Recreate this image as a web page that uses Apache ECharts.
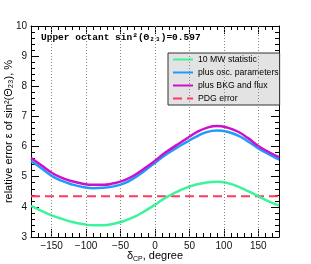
<!DOCTYPE html>
<html><head><meta charset="utf-8">
<script src="https://cdn.jsdelivr.net/npm/echarts@6/dist/echarts.min.js"></script>
<style>html,body{margin:0;padding:0;background:#fff}#c{width:311px;height:264px}</style>
</head><body><div id="c"></div>
<script>
const deltaCP = [-180,-165,-150,-135,-120,-105,-90,-75,-60,-45,-30,-15,0,15,30,45,60,75,90,105,120,135,150,165,180];
const statOnly = [4.03,3.87,3.72,3.60,3.50,3.43,3.39,3.39,3.44,3.53,3.67,3.86,4.07,4.30,4.48,4.63,4.74,4.81,4.83,4.79,4.68,4.52,4.35,4.18,4.05];
const plusOsc  = [5.52,5.28,5.03,4.86,4.74,4.66,4.62,4.63,4.68,4.78,4.96,5.20,5.46,5.72,5.94,6.14,6.33,6.48,6.53,6.49,6.37,6.17,5.94,5.75,5.57];
const plusBkg  = [5.62,5.38,5.13,4.96,4.85,4.77,4.73,4.73,4.78,4.88,5.05,5.28,5.53,5.80,6.03,6.25,6.47,6.62,6.68,6.63,6.50,6.28,6.02,5.82,5.65];
const pdgError = 4.35;
const xMajorTicks = [-150,-100,-50,0,50,100,150];
const names = ['10 MW statistic','plus osc. parameters','plus BKG and flux','PDG error'];

const pairs = a => deltaCP.map((x,i)=>[x,a[i]]);
const fmt = v => String(v).replace('-', '\u2212');
const FONT = 'Liberation Sans';
const G = {left:31, right:32, top:26, bottom:27, outerBoundsMode:'none', containLabel:false};

const chart = echarts.init(document.getElementById('c'), null, {renderer:'canvas'});
const axLine = {show:true, onZero:false, lineStyle:{color:'#000', width:1}};
const noLine = {show:false, onZero:false};
chart.setOption({
  animation:false,
  grid:[Object.assign({}, G), Object.assign({}, G)],
  xAxis:[
    {type:'value', gridIndex:0, position:'bottom', min:-180, max:180,
     axisLine:axLine, splitLine:{show:false},
     axisTick:{show:true, inside:true, length:8, customValues:xMajorTicks, lineStyle:{color:'#000'}},
     axisLabel:{customValues:xMajorTicks, formatter:fmt, color:'#111', fontFamily:FONT, fontSize:10, margin:4},
     name:'{a|δ}{s|CP}{a|, degree}', nameLocation:'middle', nameGap:12, nameMoveOverlap:false,
     nameTextStyle:{rich:{a:{fontFamily:FONT, fontSize:11, color:'#000', lineHeight:14},
                          s:{fontFamily:FONT, fontSize:7, color:'#000', verticalAlign:'bottom', lineHeight:9}}}},
    {type:'value', gridIndex:0, position:'top', min:-180, max:180,
     axisLine:axLine, splitLine:{show:false},
     axisTick:{show:true, inside:true, length:8, customValues:xMajorTicks, lineStyle:{color:'#000'}},
     axisLabel:{show:false}},
    {type:'value', gridIndex:1, position:'bottom', min:-180, max:180, interval:10,
     axisLine:noLine, splitLine:{show:false},
     axisTick:{show:true, inside:true, length:4, lineStyle:{color:'#000'}}, axisLabel:{show:false}},
    {type:'value', gridIndex:1, position:'top', min:-180, max:180, interval:10,
     axisLine:noLine, splitLine:{show:false},
     axisTick:{show:true, inside:true, length:4, lineStyle:{color:'#000'}}, axisLabel:{show:false}}
  ],
  yAxis:[
    {type:'value', gridIndex:0, position:'left', min:3, max:10, interval:1,
     axisLine:axLine, splitLine:{show:false},
     axisTick:{show:true, inside:true, length:8, lineStyle:{color:'#000'}},
     minorTick:{show:true, splitNumber:5, length:4, lineStyle:{color:'#000'}},
     axisLabel:{color:'#111', fontFamily:FONT, fontSize:10, margin:4},
     name:'relative error ε of sin²(Θ₂₃), %', nameLocation:'middle', nameGap:17, nameMoveOverlap:false,
     nameTextStyle:{fontFamily:FONT, fontSize:11, color:'#000'}},
    {type:'value', gridIndex:0, position:'right', min:3, max:10, interval:1,
     axisLine:axLine, splitLine:{show:false},
     axisTick:{show:true, inside:true, length:8, lineStyle:{color:'#000'}},
     minorTick:{show:true, splitNumber:5, length:4, lineStyle:{color:'#000'}},
     axisLabel:{show:false}},
    {type:'value', gridIndex:1, min:3, max:10, show:false, axisLine:noLine},
    {type:'value', gridIndex:1, min:3, max:10, show:false, position:'right', axisLine:noLine}
  ],
  legend:{orient:'vertical', left:168, top:53,
    data:names, backgroundColor:'#e3e3e3', borderColor:'#333', borderWidth:1,
    padding:[1,1,1,4], itemGap:2, itemWidth:20, itemHeight:11,
    itemStyle:{color:'transparent', opacity:0, borderWidth:0},
    lineStyle:{width:2},
    textStyle:{fontFamily:FONT, fontSize:8.7, color:'#000', lineHeight:11}},
  graphic:[{type:'text', left:41, top:33, silent:true,
    style:{text:'Upper octant sin²(Θ₂₃)=0.597', fontFamily:'Liberation Mono', fontWeight:'bold', fontSize:9.5, fill:'#000'}}],
  series:[
    {name:names[3], type:'line', xAxisIndex:0, yAxisIndex:0, symbol:'none',
     data:[[-180,pdgError],[180,pdgError]],
     lineStyle:{color:'#ff3a5c', width:2, type:[9,5]}, itemStyle:{color:'#ff3a5c'},
     markLine:{silent:true, symbol:'none', label:{show:false},
       lineStyle:{color:'#888', width:1, type:[1,2]},
       data:xMajorTicks.map(v=>({xAxis:v}))}},
    {name:names[0], type:'line', smooth:true, xAxisIndex:0, yAxisIndex:0, symbol:'none',
     data:pairs(statOnly), lineStyle:{color:'#3cf59a', width:2.5}, itemStyle:{color:'#3cf59a'}},
    {name:names[1], type:'line', smooth:true, xAxisIndex:0, yAxisIndex:0, symbol:'none',
     data:pairs(plusOsc), lineStyle:{color:'#1e9bff', width:2.5}, itemStyle:{color:'#1e9bff'}},
    {name:names[2], type:'line', smooth:true, xAxisIndex:0, yAxisIndex:0, symbol:'none',
     data:pairs(plusBkg), lineStyle:{color:'#cc11cc', width:2.5}, itemStyle:{color:'#cc11cc'}}
  ]
});
</script></body></html>
